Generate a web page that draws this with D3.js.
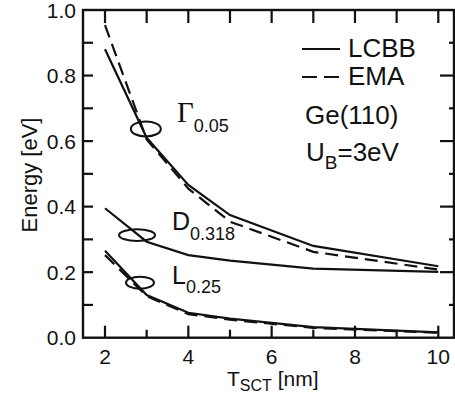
<!DOCTYPE html>
<html><head><meta charset="utf-8">
<script src="https://cdn.jsdelivr.net/npm/d3@7"></script>
<style>body{margin:0;background:#fff}svg{display:block}text{font-family:"Liberation Sans",Arial,sans-serif;fill:#111}</style>
</head><body>
<svg id="c" width="455" height="396"></svg>
<script>
// ---- data ----
const thickness = [2, 3, 4, 5, 7, 10];           // T_SCT [nm]
const gammaLCBB = [0.880, 0.610, 0.466, 0.374, 0.280, 0.218];
const gammaEMA  = [0.954, 0.605, 0.455, 0.354, 0.262, 0.208];
const dLCBB     = [0.395, 0.293, 0.252, 0.235, 0.211, 0.201];
const lLCBB     = [0.265, 0.130, 0.076, 0.058, 0.032, 0.016];
const lEMA      = [0.252, 0.127, 0.072, 0.055, 0.030, 0.015];
const xTickVals = [2, 4, 6, 8, 10];
const xMinorVals = [3, 5, 7, 9];
const yTickVals = [0, 0.2, 0.4, 0.6, 0.8, 1.0];
const yTickLabels = ["0.0", "0.2", "0.4", "0.6", "0.8", "1.0"];
const yMinorVals = [0.1, 0.3, 0.5, 0.7, 0.9];
// ellipse markers (data coords)
const markerX = [2.98, 2.77, 2.84];
const markerY = [0.637, 0.313, 0.168];

const svg = d3.select("#c");
const x = d3.scaleLinear().domain([2, 10]).range([105, 438.3]);
const y = d3.scaleLinear().domain([0, 1]).range([337.7, 10]);
const L = 83, R = 454, T = y(1), B = y(0);
const ink = "#111";

// frame
svg.append("rect").attr("x", L).attr("y", T).attr("width", R - L).attr("height", B - T)
  .attr("fill", "none").attr("stroke", ink).attr("stroke-width", 2.4);

const g = svg.append("g").attr("stroke", ink).attr("stroke-width", 2.2);
// bottom ticks
xTickVals.forEach(v => g.append("line").attr("x1", x(v)).attr("x2", x(v)).attr("y1", B).attr("y2", B - 12));
xMinorVals.forEach(v => g.append("line").attr("x1", x(v)).attr("x2", x(v)).attr("y1", B).attr("y2", B - 8));
// top ticks
xTickVals.concat(xMinorVals).forEach(v => g.append("line").attr("x1", x(v)).attr("x2", x(v)).attr("y1", T).attr("y2", T + 13));
// left ticks
yTickVals.concat(yMinorVals).forEach(v => { if (v > 0 && v < 1) g.append("line").attr("x1", L).attr("x2", L + 10).attr("y1", y(v)).attr("y2", y(v)); });
// right ticks
yTickVals.forEach(v => { if (v > 0 && v < 1) g.append("line").attr("x1", R).attr("x2", R - 14).attr("y1", y(v)).attr("y2", y(v)); });
yMinorVals.forEach(v => g.append("line").attr("x1", R).attr("x2", R - 5).attr("y1", y(v)).attr("y2", y(v)));

// tick labels
svg.selectAll(".xl").data(xTickVals).enter().append("text")
  .attr("x", d => x(d)).attr("y", 364).attr("text-anchor", "middle").attr("font-size", 21).text(d => d);
svg.selectAll(".yl").data(yTickVals).enter().append("text")
  .attr("x", 76).attr("y", d => y(d) + 7.5).attr("text-anchor", "end").attr("font-size", 21)
  .text((d, i) => yTickLabels[i]);

// axis titles
svg.append("text").attr("transform", "translate(37,175) rotate(-90)").attr("text-anchor", "middle")
  .attr("font-size", 22).text("Energy [eV]");
const xt = svg.append("text").attr("x", 227).attr("y", 386).attr("font-size", 21);
xt.append("tspan").text("T");
xt.append("tspan").attr("font-size", 16).attr("dy", 5).text("SCT");
xt.append("tspan").attr("dy", -5).text(" [nm]");

// curves
const line = d3.line().x((d, i) => x(thickness[i])).y(d => y(d));
function curve(vals, dashed) {
  svg.append("path").attr("d", line(vals)).attr("fill", "none").attr("stroke", ink)
    .attr("stroke-width", 2.2).attr("stroke-dasharray", dashed ? "13,7" : null);
}
curve(gammaEMA, true); curve(gammaLCBB, false);
curve(dLCBB, false);
curve(lEMA, true); curve(lLCBB, false);

// ellipses
const rx = [15, 18, 14], ry = [7.5, 5.8, 6];
markerX.forEach((mx, i) => svg.append("ellipse").attr("cx", x(mx)).attr("cy", y(markerY[i]))
  .attr("rx", rx[i]).attr("ry", ry[i]).attr("fill", "none").attr("stroke", ink).attr("stroke-width", 2));

// curve labels
const gl = svg.append("text").attr("x", 177).attr("y", 122);
gl.append("tspan").attr("font-family", "Liberation Serif").attr("font-size", 29).text("Γ");
gl.append("tspan").attr("font-size", 18).attr("dy", 10).text("0.05");
const dl = svg.append("text").attr("x", 172).attr("y", 230);
dl.append("tspan").attr("font-size", 25).text("D");
dl.append("tspan").attr("font-size", 18).attr("dy", 10).text("0.318");
const ll = svg.append("text").attr("x", 172).attr("y", 284);
ll.append("tspan").attr("font-size", 25).text("L");
ll.append("tspan").attr("font-size", 18).attr("dy", 9).text("0.25");

// legend
svg.append("line").attr("x1", 302).attr("x2", 340).attr("y1", 49).attr("y2", 49).attr("stroke", ink).attr("stroke-width", 2.2);
svg.append("line").attr("x1", 302).attr("x2", 340).attr("y1", 77).attr("y2", 77).attr("stroke", ink).attr("stroke-width", 2.2).attr("stroke-dasharray", "15,7");
svg.append("text").attr("x", 348).attr("y", 57).attr("font-size", 26).text("LCBB");
svg.append("text").attr("x", 348).attr("y", 85).attr("font-size", 26).text("EMA");
svg.append("text").attr("x", 305).attr("y", 124).attr("font-size", 26).text("Ge(110)");
const ub = svg.append("text").attr("x", 306).attr("y", 161).attr("font-size", 26);
ub.append("tspan").text("U");
ub.append("tspan").attr("font-size", 19).attr("dy", 8).text("B");
ub.append("tspan").attr("dy", -8).text("=3eV");
</script>
</body></html>
